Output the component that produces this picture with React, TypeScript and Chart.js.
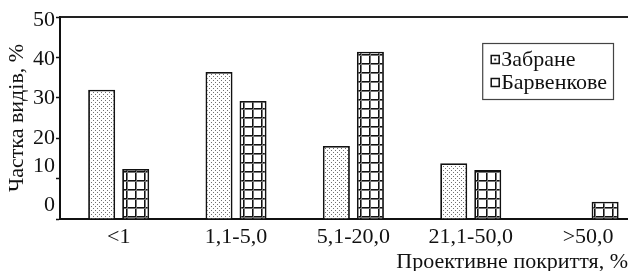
import React, { useEffect, useRef } from 'react';
import { Chart, registerables } from 'chart.js';

Chart.register(...registerables);

// ---- data ----
const categories = ['<1', '1,1-5,0', '5,1-20,0', '21,1-50,0', '>50,0'];
const seriesNames = ['Забране', 'Барвенкове'];
const zabrane = [32, 36.4, 18.1, 13.8, 0];
const barvenkove = [12.4, 29.2, 41.4, 12.1, 4.3];
const yTickLabels = ['0', '10', '20', '30', '40', '50'];
const xTitle = 'Проективне покриття, %';
const yTitle = 'Частка видів, %';

// ---- style ----
const FONT = '"Liberation Serif", "Times New Roman", serif';
const FS = 22;
const INK = '#111';
// vertical nudge (px) of some y tick labels, as printed in the source figure
const Y_LABEL_SHIFT: Record<number, number> = { 0: -14, 10: -12, 40: 2, 50: 3 };

function makeDotPattern(): CanvasPattern | string {
  const c = document.createElement('canvas');
  c.width = 4;
  c.height = 4;
  const g = c.getContext('2d');
  if (!g) return '#ddd';
  g.fillStyle = '#fff';
  g.fillRect(0, 0, 4, 4);
  g.fillStyle = '#707070';
  g.fillRect(1, 0, 1, 1);
  g.fillRect(3, 2, 1, 1);
  return g.createPattern(c, 'repeat') || '#ddd';
}

function makeGridPattern(): CanvasPattern | string {
  const c = document.createElement('canvas');
  c.width = 9;
  c.height = 9;
  const g = c.getContext('2d');
  if (!g) return '#fff';
  g.fillStyle = '#fff';
  g.fillRect(0, 0, 9, 9);
  g.fillStyle = '#111';
  g.fillRect(0, 0, 9, 1);
  g.fillRect(0, 0, 1, 9);
  g.fillStyle = '#777';
  g.fillRect(0, 1, 9, 1);
  g.fillRect(1, 0, 1, 9);
  return g.createPattern(c, 'repeat') || '#fff';
}

const boxedLegend = {
  id: 'boxedLegend',
  afterDraw(chart: any) {
    const { ctx, chartArea } = chart;
    const ds = chart.data.datasets;
    ctx.save();
    ctx.font = `${FS}px ${FONT}`;
    const textW = Math.max(...ds.map((d: any) => ctx.measureText(d.label).width));
    const padL = 9, icon = 8, gap = 2, padR = 6, rowH = 23, padT = 5;
    const w = padL + icon + gap + textW + padR;
    const h = padT * 2 + rowH * ds.length;
    const x = chartArea.right - 15 - w;
    const y = chartArea.top + 26;
    ctx.fillStyle = '#fff';
    ctx.fillRect(x, y, w, h);
    ctx.strokeStyle = '#444';
    ctx.lineWidth = 1.2;
    ctx.strokeRect(x + 0.5, y + 0.5, w, h);
    ds.forEach((d: any, i: number) => {
      const cy = y + padT + rowH * i + rowH / 2;
      const ix = x + padL;
      ctx.fillStyle = '#fff';
      ctx.fillRect(ix, cy - icon / 2, icon, icon);
      if (i === 0) {
        ctx.fillStyle = '#333';
        ctx.fillRect(ix + 3, cy - 1, 2, 2);
      }
      ctx.strokeStyle = INK;
      ctx.lineWidth = 1.5;
      ctx.strokeRect(ix, cy - icon / 2, icon, icon);
      ctx.fillStyle = INK;
      ctx.textBaseline = 'middle';
      ctx.textAlign = 'left';
      ctx.fillText(d.label, ix + icon + gap, cy + 1);
    });
    ctx.restore();
  },
};

export default function App() {
  const ref = useRef<HTMLCanvasElement | null>(null);

  useEffect(() => {
    if (!ref.current) return;
    const chart = new Chart(ref.current, {
      type: 'bar',
      data: {
        datasets: [
          {
            label: seriesNames[0],
            data: zabrane.map((v, i) => ({ x: i, y: v })),
            backgroundColor: makeDotPattern() as any,
            borderColor: INK,
            borderWidth: 1.8,
          },
          {
            label: seriesNames[1],
            data: barvenkove.map((v, i) => ({ x: i, y: v })),
            backgroundColor: makeGridPattern() as any,
            borderColor: INK,
            borderWidth: 1.8,
          },
        ],
      },
      options: {
        animation: false,
        responsive: false,
        layout: { padding: { top: 17, right: 0, bottom: 0, left: 0 } },
        datasets: { bar: { barPercentage: 0.794, categoryPercentage: 0.58 } } as any,
        plugins: { legend: { display: false }, tooltip: { enabled: false } },
        scales: {
          x: {
            type: 'linear',
            min: -0.5,
            max: 4.34,
            offset: false,
            z: 1,
            afterBuildTicks: (s: any) => {
              s.ticks = categories.map((_, i) => ({ value: i }));
            },
            afterFit: (s: any) => {
              s.height = 52;
            },
            grid: { display: false, drawTicks: false },
            border: { display: true, color: INK, width: 2 },
            ticks: {
              autoSkip: false,
              maxRotation: 0,
              padding: 5,
              color: INK,
              font: { family: FONT, size: FS },
              callback: (v: any) => categories[v] ?? '',
            },
            title: {
              display: true,
              text: xTitle,
              align: 'end',
              color: INK,
              padding: { top: 0, bottom: -2 },
              font: { family: FONT, size: FS, lineHeight: 1 },
            },
          } as any,
          xTop: {
            type: 'linear',
            position: 'top',
            min: -0.5,
            max: 4.34,
            offset: false,
            afterFit: (s: any) => {
              s.height = 0;
            },
            grid: { display: false, drawTicks: false },
            border: { display: true, color: '#222', width: 2 },
            ticks: { display: false },
            title: { display: false },
          } as any,
          y: {
            min: 0,
            max: 50,
            afterFit: (s: any) => {
              s.width = 60;
            },
            grid: {
              drawOnChartArea: false,
              tickColor: INK,
              tickWidth: 1.5,
              tickLength: 4,
            },
            border: { display: true, color: INK, width: 2 },
            ticks: {
              stepSize: 10,
              autoSkip: false,
              padding: 1,
              color: INK,
              font: (c: any) => {
                const s = c.tick ? Y_LABEL_SHIFT[c.tick.value] || 0 : 0;
                return s
                  ? { family: FONT, size: FS, lineHeight: `${Math.abs(s) * 2}px` }
                  : { family: FONT, size: FS };
              },
              callback: (v: any, i: number) => {
                const t = yTickLabels[i] ?? String(v);
                const s = Y_LABEL_SHIFT[v] || 0;
                if (!s) return t;
                return s < 0 ? [t, ''] : ['', t];
              },
            },
            title: {
              display: true,
              text: yTitle,
              align: 'center',
              color: INK,
              padding: { top: 6, bottom: 0 },
              font: { family: FONT, size: FS, lineHeight: 1 },
            },
          } as any,
        },
      },
      plugins: [boxedLegend],
    });
    return () => chart.destroy();
  }, []);

  return (
    <div
      style={{
        position: 'absolute',
        left: 0,
        top: 0,
        width: 628,
        height: 271,
        overflow: 'hidden',
        background: '#fff',
      }}
    >
      <canvas ref={ref} width={628} height={271} style={{ display: 'block' }} />
    </div>
  );
}
